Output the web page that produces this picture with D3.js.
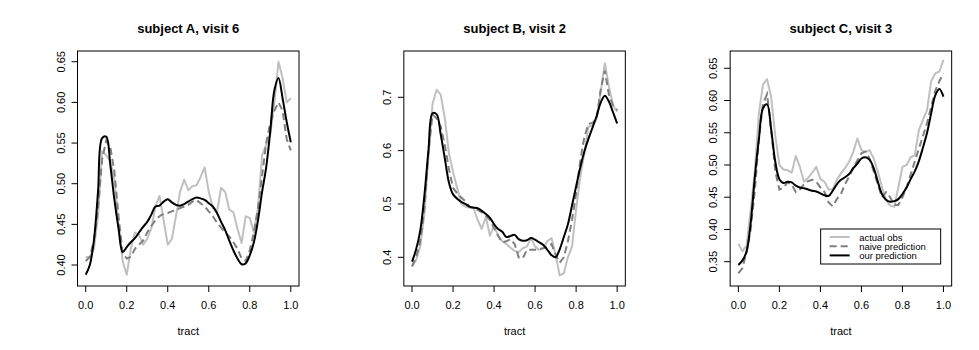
<!DOCTYPE html>
<html>
<head>
<meta charset="utf-8">
<title>tract profiles</title>
<script src="https://cdnjs.cloudflare.com/ajax/libs/d3/7.8.5/d3.min.js"></script>
<style>
  body { margin: 0; background: #fff; }
  svg text { font-family: "Liberation Sans", Arial, sans-serif; fill: #000; }
  .title { font-weight: bold; font-size: 13px; }
  .lab { font-size: 11px; }
  .box { fill: none; stroke: #000; stroke-width: 1px; }
  .tk { stroke: #000; stroke-width: 1px; }
  .obs { fill: none; stroke: #c0c0c0; stroke-width: 2px; stroke-linejoin: round; }
  .naive { fill: none; stroke: #7f7f7f; stroke-width: 2px; stroke-dasharray: 7,4; }
  .ours { fill: none; stroke: #000; stroke-width: 2px; stroke-linejoin: round; }
</style>
</head>
<body>
<svg id="chart" width="979" height="350"></svg>
<script>
// position along the tract
var tract = [0, 0.02, 0.04, 0.06, 0.08, 0.10, 0.12, 0.14, 0.16, 0.18,
             0.20, 0.22, 0.24, 0.26, 0.28, 0.30, 0.32, 0.34, 0.36, 0.38,
             0.40, 0.42, 0.44, 0.46, 0.48, 0.50, 0.52, 0.54, 0.56, 0.58,
             0.60, 0.62, 0.64, 0.66, 0.68, 0.70, 0.72, 0.74, 0.76, 0.78,
             0.80, 0.82, 0.84, 0.86, 0.88, 0.90, 0.92, 0.94, 0.96, 0.98, 1.00];

// subject A, visit 6
var obsA = [.41,.41,.42,.46,.54,.535,.528,.505,.45,.405,
            .388,.42,.44,.437,.425,.432,.445,.472,.485,.455,
            .425,.432,.46,.49,.505,.492,.497,.498,.508,.520,
            .49,.47,.465,.495,.49,.468,.465,.445,.427,.46,
            .458,.44,.47,.535,.548,.56,.60,.65,.63,.60,.605];
var naiveA = [.405,.41,.43,.47,.53,.553,.545,.515,.46,.415,
              .408,.41,.42,.425,.43,.44,.448,.455,.46,.463,
              .464,.466,.468,.47,.472,.474,.478,.48,.476,.472,
              .466,.46,.452,.446,.44,.435,.428,.42,.408,.405,
              .418,.44,.47,.51,.55,.575,.59,.60,.59,.555,.541];
var oursA = [.388,.400,.430,.490,.556,.558,.523,.480,.445,.416,
             .422,.428,.433,.440,.447,.453,.462,.472,.473,.478,
             .481,.477,.474,.473,.475,.478,.481,.483,.482,.480,
             .476,.472,.464,.453,.443,.430,.418,.408,.401,.402,
             .412,.428,.455,.490,.520,.565,.615,.630,.605,.576,.551];

// subject B, visit 2
var obsB = [.383,.395,.42,.48,.59,.688,.714,.705,.66,.595,
            .56,.53,.50,.495,.493,.492,.47,.453,.476,.44,
            .46,.44,.43,.425,.418,.412,.41,.417,.42,.436,
            .42,.414,.418,.43,.436,.405,.366,.37,.40,.42,
            .49,.55,.595,.645,.647,.66,.71,.764,.72,.685,.673];
var naiveB = [.383,.40,.43,.49,.60,.668,.66,.645,.61,.565,
              .53,.52,.512,.505,.495,.492,.489,.484,.478,.47,
              .455,.44,.428,.43,.434,.425,.40,.398,.414,.414,
              .414,.415,.417,.42,.425,.405,.39,.40,.43,.47,
              .52,.58,.625,.65,.652,.66,.715,.75,.705,.685,.676];
var oursB = [.392,.415,.45,.515,.60,.67,.668,.63,.585,.54,
             .518,.51,.504,.50,.495,.493,.492,.487,.481,.474,
             .462,.453,.448,.438,.44,.442,.434,.431,.432,.436,
             .433,.428,.423,.414,.404,.40,.415,.438,.462,.497,
             .533,.568,.598,.622,.643,.665,.69,.703,.692,.672,.651];

// subject C, visit 3
var obsC = [.378,.366,.375,.43,.49,.58,.625,.633,.605,.545,
            .50,.493,.492,.488,.514,.497,.474,.48,.488,.497,
            .478,.474,.462,.462,.477,.487,.495,.505,.52,.541,
            .523,.52,.523,.51,.49,.466,.445,.437,.435,.465,
            .497,.50,.512,.515,.554,.57,.585,.63,.642,.645,.663];
var naiveC = [.332,.34,.365,.40,.46,.54,.595,.61,.555,.49,
              .462,.465,.473,.47,.458,.462,.47,.475,.477,.474,
              .465,.458,.442,.436,.447,.455,.47,.482,.495,.507,
              .518,.521,.51,.49,.47,.45,.458,.45,.438,.438,
              .45,.465,.485,.505,.525,.545,.565,.59,.615,.63,.642];
var oursC = [.345,.352,.366,.41,.48,.54,.588,.594,.555,.505,
             .478,.472,.474,.473,.468,.465,.464,.462,.460,.459,
             .456,.453,.452,.46,.47,.477,.481,.486,.495,.502,
             .510,.512,.508,.495,.474,.455,.446,.443,.444,.447,
             .455,.465,.478,.49,.506,.527,.55,.58,.608,.618,.606];

var titles = ["subject A, visit 6", "subject B, visit 2", "subject C, visit 3"];
var xTicks = [0, 0.2, 0.4, 0.6, 0.8, 1.0];
var yTicksA = [0.40, 0.45, 0.50, 0.55, 0.60, 0.65];
var yTicksB = [0.4, 0.5, 0.6, 0.7];
var yTicksC = [0.35, 0.40, 0.45, 0.50, 0.55, 0.60, 0.65];
var yLimA = [0.3742, 0.6632];
var yLimB = [0.3462, 0.7868];
var yLimC = [0.3123, 0.6768];
var legendLabels = ["actual obs", "naive prediction", "our prediction"];

var panels = [
  {title: titles[0], obs: obsA, naive: naiveA, ours: oursA, yTicks: yTicksA, yLim: yLimA, fmt: ".2f"},
  {title: titles[1], obs: obsB, naive: naiveB, ours: oursB, yTicks: yTicksB, yLim: yLimB, fmt: ".1f"},
  {title: titles[2], obs: obsC, naive: naiveC, ours: oursC, yTicks: yTicksC, yLim: yLimC, fmt: ".2f", legend: true}
];

var svg = d3.select("#chart");
var panelW = 979 / 3;
var boxL = 77.5, boxR = 299, boxT = 51, boxB = 286;

panels.forEach(function (p, i) {
  var g = svg.append("g").attr("transform", "translate(" + (i * panelW) + ",0)");

  var x = d3.scaleLinear().domain([-0.04, 1.04]).range([boxL, boxR]);
  var y = d3.scaleLinear().domain(p.yLim).range([boxB, boxT]);

  function lineFor(vals, curve) {
    return d3.line()
      .x(function (d, k) { return x(tract[k]); })
      .y(function (d) { return y(d); })
      .curve(curve)(vals);
  }

  g.append("path").attr("class", "obs").attr("d", lineFor(p.obs, d3.curveLinear));
  g.append("path").attr("class", "naive").attr("d", lineFor(p.naive, d3.curveLinear));
  g.append("path").attr("class", "ours").attr("d", lineFor(p.ours, d3.curveCatmullRom));

  g.append("rect").attr("class", "box")
    .attr("x", boxL).attr("y", boxT)
    .attr("width", boxR - boxL).attr("height", boxB - boxT);

  // x axis
  g.selectAll(".xt").data(xTicks).enter().append("line")
    .attr("class", "tk")
    .attr("x1", function (d) { return x(d); }).attr("x2", function (d) { return x(d); })
    .attr("y1", boxB).attr("y2", boxB + 6);
  g.selectAll(".xl").data(xTicks).enter().append("text")
    .attr("class", "lab")
    .attr("x", function (d) { return x(d); })
    .attr("y", 309)
    .attr("text-anchor", "middle")
    .text(d3.format(".1f"));

  // y axis
  g.selectAll(".yt").data(p.yTicks).enter().append("line")
    .attr("class", "tk")
    .attr("x1", boxL - 6).attr("x2", boxL)
    .attr("y1", function (d) { return y(d); }).attr("y2", function (d) { return y(d); });
  g.selectAll(".yl").data(p.yTicks).enter().append("text")
    .attr("class", "lab")
    .attr("text-anchor", "middle")
    .attr("transform", function (d) { return "translate(" + (boxL - 13) + "," + y(d) + ") rotate(-90)"; })
    .text(d3.format(p.fmt));

  g.append("text").attr("class", "title")
    .attr("x", (boxL + boxR) / 2).attr("y", 33)
    .attr("text-anchor", "middle")
    .text(p.title);

  g.append("text").attr("class", "lab")
    .attr("x", (boxL + boxR) / 2).attr("y", 335)
    .attr("text-anchor", "middle")
    .text("tract");

  if (p.legend) {
    var lg = g.append("g").attr("transform", "translate(" + (boxR - 131) + "," + (boxB - 57) + ")");
    lg.append("rect").attr("width", 120).attr("height", 35)
      .attr("fill", "#fff").attr("stroke", "#000").attr("stroke-width", 1);
    var cls = ["obs", "naive", "ours"];
    legendLabels.forEach(function (t, k) {
      var yy = 8 + k * 9.2;
      lg.append("line").attr("class", cls[k])
        .attr("x1", 9).attr("x2", 29).attr("y1", yy).attr("y2", yy);
      lg.append("text").attr("x", 38.5).attr("y", yy + 3.5)
        .style("font-size", "9.5px")
        .text(t);
    });
  }
});
</script>
</body>
</html>
